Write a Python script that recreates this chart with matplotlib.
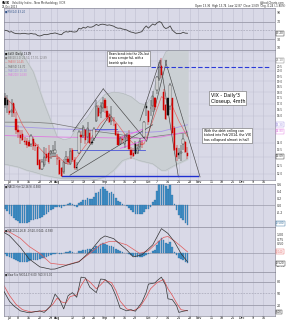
import numpy as np
import matplotlib.pyplot as plt
import matplotlib.transforms as mtransforms
from matplotlib.ticker import FixedLocator, NullLocator, FormatStrFormatter

# trading-day index, 0 = 1 Jul 2013
days = list(range(-2, 83))
opens = [17.5, 17.3, 16.4, 16.3, 17.0, 15.7, 14.9, 14.5, 14.6, 14.1, 14.1, 14.0, 13.9, 14.2, 13.8,
         13.7, 12.8, 12.3, 12.5, 13.2, 13.3, 13.2, 13.3, 13.3, 12.9, 12.8, 12.3, 12.1, 12.9, 12.9,
         12.6, 13.5, 12.8, 12.4, 13.3, 14.5, 14.5, 14.9, 14.4, 14.7, 14.0, 14.3, 15.6, 16.6, 16.2,
         16.6, 17.3, 16.4, 15.9, 15.6, 15.6, 15.3, 14.6, 13.9, 14.2, 13.9, 14.5, 14.5, 13.5, 13.3,
         13.9, 13.3, 13.7, 13.9, 14.4, 16.8, 16.4, 16.6, 16.8, 17.5, 18.2, 19.2, 20.5, 18.0, 16.9,
         17.5, 16.8, 17.5, 15.0, 13.6, 13.3, 13.3, 13.9, 14.0, 13.3]
highs = [17.9, 17.7, 17.2, 17.4, 17.0, 16.3, 15.3, 14.9, 14.9, 14.4, 14.3, 14.2, 14.6, 14.4, 14.0,
         13.9, 12.9, 12.9, 13.7, 13.6, 13.8, 13.5, 13.8, 14.1, 13.2, 13.0, 12.4, 12.9, 13.4, 13.1,
         13.6, 13.6, 13.0, 12.7, 14.9, 14.8, 15.3, 15.0, 15.5, 14.9, 14.3, 15.1, 17.3, 16.9, 17.1,
         17.6, 17.5, 16.8, 16.2, 16.8, 15.9, 15.4, 14.8, 14.5, 14.5, 14.6, 14.7, 14.9, 13.7, 13.6,
         14.1, 13.9, 14.3, 14.2, 15.6, 17.1, 16.5, 17.3, 18.1, 17.6, 19.5, 20.9, 21.3, 18.3, 17.0,
         17.5, 18.8, 17.5, 15.2, 13.8, 13.6, 13.8, 14.6, 14.1, 13.7]
lows = [16.6, 16.2, 16.1, 15.9, 15.9, 14.6, 14.3, 13.9, 14.1, 13.8, 13.6, 13.7, 13.7, 13.5, 13.4,
        12.5, 12.2, 12.2, 12.4, 12.8, 12.6, 12.9, 13.0, 13.0, 12.5, 11.9, 11.8, 12.0, 12.6, 12.5,
        12.5, 12.8, 12.2, 12.2, 13.2, 14.0, 14.3, 13.9, 14.0, 13.9, 13.8, 14.1, 15.5, 15.9, 15.8,
        16.3, 16.2, 15.6, 15.4, 15.3, 15.2, 14.5, 13.8, 13.8, 14.0, 13.6, 14.1, 13.5, 12.9, 13.0,
        13.3, 13.2, 13.5, 13.6, 14.3, 16.0, 15.3, 16.0, 16.3, 16.5, 17.8, 19.0, 19.3, 16.4, 15.7,
        16.0, 16.5, 14.6, 13.4, 12.8, 12.9, 12.8, 13.5, 13.3, 12.9]
closes = [16.86, 16.86, 16.21, 16.44, 16.20, 14.89, 14.78, 14.35, 14.21, 14.01, 13.84, 13.79, 14.42,
          13.78, 13.77, 12.54, 12.29, 12.66, 13.02, 12.97, 12.72, 13.39, 13.39, 13.45, 12.94, 11.98,
          11.84, 12.72, 12.98, 12.73, 13.41, 12.81, 12.31, 12.31, 14.73, 14.37, 15.10, 14.15, 15.00,
          13.98, 13.98, 14.99, 16.77, 15.98, 16.81, 17.01, 16.61, 15.88, 15.51, 15.85, 15.63, 14.53,
          13.82, 14.29, 14.16, 14.38, 14.53, 13.59, 13.16, 13.12, 13.26, 13.59, 14.08, 13.96, 15.46,
          16.60, 15.54, 16.60, 17.67, 16.74, 19.41, 20.34, 19.60, 16.48, 15.72, 16.07, 18.66, 14.71,
          13.48, 13.04, 13.16, 13.33, 14.20, 13.33, 13.09]

# overlays (index, value)
bb_x = [-3, 4, 8, 11, 16, 20, 22, 25, 28, 32, 36, 40, 44, 48, 52, 56, 60, 63, 66, 68, 70, 72, 76, 82]
bb_up = [23, 22.5, 21.0, 19.9, 17.0, 15.2, 14.4, 14.2, 14.3, 15.3, 15.9, 17.0, 17.8, 18.0, 17.9,
         17.6, 17.0, 16.9, 17.8, 19.5, 21.0, 22.0, 22.5, 22.5]
bb_lo = [12.6, 12.4, 12.2, 12.1, 11.9, 11.8, 11.75, 11.7, 11.7, 11.7, 11.7, 11.65, 11.8, 12.2, 12.8,
         13.0, 12.8, 12.7, 12.6, 12.4, 12.2, 12.2, 12.5, 12.9]
ma8_x = [-2, 2, 6, 10, 14, 18, 22, 26, 30, 34, 38, 42, 46, 50, 54, 58, 62, 66, 70, 74, 78, 82]
ma8 = [17.6, 16.8, 15.3, 14.3, 13.6, 13.0, 13.1, 12.6, 12.8, 13.6, 14.4, 15.4, 16.1, 15.3, 14.4,
       13.8, 13.9, 15.6, 17.6, 17.2, 15.6, 14.4]
ma50_x = [-2, 10, 20, 30, 40, 50, 60, 66, 70, 82]
ma50 = [15.5, 15.5, 15.4, 15.1, 14.8, 14.6, 14.3, 14.4, 14.5, 14.7]
ma100_x = [-2, 20, 40, 60, 70, 82]
ma100 = [15.2, 15.0, 14.9, 14.7, 14.8, 15.3]
ma200_x = [-2, 20, 40, 60, 70, 82]
ma200 = [14.5, 14.4, 14.35, 14.3, 14.4, 14.8]

# RSI(14)
rsi = [50, 49, 46, 47, 44, 42.5, 42.3, 42, 43, 43, 42, 41.6, 43, 41.6, 41.6, 38, 37, 38.5, 40.5, 40,
       41, 42.5, 43, 44, 42.5, 40.8, 40, 45, 47, 46, 48, 46.5, 46, 47, 54.7, 53, 57, 55, 58.5, 57,
       57.5, 60, 63.5, 61, 63.5, 64, 63, 61.5, 62.4, 61, 59.4, 56.5, 54.7, 55, 53, 52, 50.8, 48, 46,
       45, 43.2, 44, 45.5, 47, 54.7, 60, 55, 60, 64.5, 62, 67, 70, 67.7, 58, 54, 56, 60, 50.8, 46,
       42.3, 42.6, 43, 45.5, 43.5, 43.2]

# MACD(12,26,9)
hist = [-0.10, -0.18, -0.25, -0.30, -0.36, -0.42, -0.46, -0.50, -0.52, -0.52, -0.50, -0.48, -0.44,
        -0.42, -0.40, -0.40, -0.38, -0.33, -0.28, -0.24, -0.20, -0.15, -0.10, -0.06, -0.04, -0.06,
        -0.08, -0.03, 0.02, 0.03, 0.06, 0.04, -0.02, -0.05, 0.06, 0.10, 0.16, 0.14, 0.20, 0.18, 0.17,
        0.24, 0.35, 0.38, 0.48, 0.52, 0.48, 0.42, 0.36, 0.38, 0.32, 0.22, 0.12, 0.08, 0.03, 0.00,
        -0.03, -0.09, -0.15, -0.20, -0.24, -0.25, -0.26, -0.26, -0.20, -0.12, -0.10, -0.04, 0.10,
        0.14, 0.40, 0.65, 0.80, 0.70, 0.55, 0.48, 0.58, 0.30, 0.05, -0.15, -0.28, -0.36, -0.44,
        -0.52, -0.58]
macd_x = [-2.5, 0, 5, 9, 14, 19, 21, 26, 32, 37, 42, 44, 48, 54, 57, 61, 66, 70, 73, 76, 79, 82]
macd = [1.12, 0.95, 0.30, -0.35, -0.80, -0.93, -0.92, -0.72, -0.52, 0.04, 0.78, 0.93, 0.78, 0.15,
        -0.24, -0.13, 0.43, 1.34, 1.07, 0.60, -0.05, -0.52]
sig_x = [-2.5, 0, 5, 9, 14, 19, 26, 32, 37, 42, 46, 49, 54, 60, 64, 68, 71, 73, 76, 79, 82]
signal = [1.20, 1.15, 0.80, 0.35, -0.05, -0.60, -0.70, -0.50, -0.05, 0.45, 0.62, 0.62, 0.43,
          -0.05, 0.10, 0.55, 0.85, 0.90, 0.65, 0.35, 0.04]

# Slow stochastics
sto_x = [-2.5, 0, 2, 5, 9, 12, 14, 16, 19, 21, 23, 25, 27, 29, 31, 33, 35, 37, 40, 42, 44, 47, 49,
         51, 54, 56, 58, 61, 63, 64, 67, 68, 70, 72, 73, 75, 77, 78, 80, 82]
sto_k = [55, 30, 18, 5, 0, 3, 5, 1, 18, 48, 35, 10, 44, 52, 40, 92, 90, 66, 52, 87, 86, 70, 44, 12,
         5, 8, 4, 27, 53, 74, 77, 83, 92, 70, 36, 34, 18, 1, 4, 6]
sto_dx = [-2.5, 0, 3, 6, 10, 14, 17, 20, 22, 24, 26, 28, 31, 33, 35, 37, 40, 42, 44, 47, 49, 51, 54,
          57, 60, 63, 65, 68, 71, 73, 75, 77, 79, 82]
sto_d = [70, 45, 22, 8, 2, 4, 6, 22, 38, 28, 25, 42, 46, 70, 88, 80, 62, 72, 84, 78, 58, 30, 10, 5,
         14, 40, 62, 78, 86, 62, 45, 25, 8, 5]

tick_pos = [0, 4, 9, 14, 19, 22, 29, 34, 39, 44, 48, 53, 58, 64, 68, 73, 78, 83, 87, 93, 98, 103,
            107, 112, 117]
tick_lab = ['Jul', '8', '15', '22', '29', 'Aug', '12', '19', '26', 'Sep', '9', '16', '23', 'Oct',
            '7', '14', '21', '28', 'Nov', '11', '18', '25', 'Dec', '9', '16']

BG = '#d9d9e7'
GRID = '#bfbfd0'
FS = 2.3

fig = plt.figure(figsize=(2.87, 3.2), dpi=100)
fig.patch.set_facecolor('white')
W, H = 287.0, 320.0


def panel(top, bottom):
    ax = fig.add_axes([4 / W, 1 - bottom / H, 271 / W, (bottom - top) / H])
    ax.set_facecolor(BG)
    ax.set_xlim(-2.5, 122.3)
    ax.set_xticks(tick_pos)
    ax.set_xticklabels(tick_lab)
    ax.tick_params(axis='x', length=0, labelsize=FS, pad=0.6, labelbottom=False)
    ax.yaxis.tick_right()
    ax.tick_params(axis='y', length=0, labelsize=FS, pad=1, colors='#333333')
    for x in tick_pos:
        ax.axvline(x, color=GRID, lw=0.4, zorder=0)
    for s in ax.spines.values():
        s.set_color('#8a8a9a')
        s.set_linewidth(0.5)
    return ax


def boxed(ax, y, txt, col='#222222'):
    tr = mtransforms.blended_transform_factory(ax.transAxes, ax.transData)
    ax.text(1.004, y, txt, transform=tr, fontsize=2.0, color=col, va='center', ha='left',
            bbox=dict(facecolor='white', edgecolor=col, lw=0.3, pad=0.3), clip_on=False)


ax_rsi = panel(8, 50)
ax_px = panel(50, 179.5)
ax_h = panel(183.5, 227)
ax_m = panel(227, 271.7)
ax_s = panel(271.7, 315.5)

# header
fig.text(2 / W, 1 - 3 / H, '$VIX', fontsize=2.2, weight='bold', va='center')
fig.text(12 / W, 1 - 3 / H, 'Volatility Index - New Methodology INDX', fontsize=1.9, va='center',
         color='#333333')
fig.text(2 / W, 1 - 7 / H, '25-Oct-2013', fontsize=1.9, va='center', color='#333333')
fig.text(285 / W, 1 - 2.5 / H, '@StockCharts.com', fontsize=1.9, va='center', ha='right',
         color='#333333')
fig.text(285 / W, 1 - 6.5 / H, 'Open 13.36  High 13.74  Low 12.87  Close 13.09  Chg -0.24 (-1.80%)',
         fontsize=1.9, va='center', ha='right', color='#222222')

# RSI panel
ax_rsi.set_ylim(5, 101)
ax_rsi.yaxis.set_major_locator(FixedLocator([10, 30, 70, 90]))
for lvl in (30, 70):
    ax_rsi.axhline(lvl, color='#9a9aaa', lw=0.6, zorder=1)
ax_rsi.axhline(50, color='#9a9aaa', lw=0.4, ls=(0, (3, 2)), zorder=1)
ax_rsi.plot(days, rsi, color='#444444', lw=0.6, zorder=3)
boxed(ax_rsi, rsi[-1], '%.2f' % rsi[-1])
ax_rsi.text(0.005, 0.95, '■RSI(14) %.2f' % rsi[-1], transform=ax_rsi.transAxes, fontsize=1.9,
            va='top', color='#335588')

# price panel
px_ticks = [12, 12.5, 13.5, 14, 16, 16.5, 17, 17.5, 18, 18.5, 19, 19.5, 20, 20.5]
ax_px.set_yscale('log')
ax_px.set_ylim(11.65, 22.2)
ax_px.yaxis.set_major_locator(FixedLocator(px_ticks))
ax_px.yaxis.set_minor_locator(NullLocator())
ax_px.yaxis.set_major_formatter(FormatStrFormatter('%.1f'))
ax_px.yaxis.set_minor_formatter(plt.NullFormatter())
ax_px.tick_params(axis='y', labelsize=2.0)
ax_px.tick_params(axis='x', labelbottom=True)
for lvl in np.arange(12, 22.01, 1.0):
    ax_px.axhline(lvl, color=GRID, lw=0.3, zorder=0)

ax_px.fill_between(bb_x, bb_lo, bb_up, color='#cbd0d4', zorder=1)
ax_px.plot(bb_x, bb_up, color='#b0b6ba', lw=0.4, zorder=1)
ax_px.plot(bb_x, bb_lo, color='#b0b6ba', lw=0.4, zorder=1)
ax_px.plot(ma50_x, ma50, color='#777777', lw=0.5, zorder=2)
ax_px.plot(ma100_x, ma100, color='#a596e6', lw=0.6, zorder=2)
ax_px.plot(ma200_x, ma200, color='#e07ae0', lw=0.6, zorder=2)
ax_px.plot(ma8_x, ma8, color='#e06a6a', lw=0.5, zorder=2)

# hand-drawn trend lines
seg_black = [((29.3, 14.8), (43.2, 18.3)), ((43.2, 18.3), (63.2, 14.1)),
             ((31, 12.5), (46.3, 16.1)), ((27.9, 11.9), (66, 15.3)),
             ((69.4, 21.1), (77.8, 11.8)), ((71.7, 21.1), (87.8, 11.8)),
             ((63.2, 14.1), (72.4, 21.1)), ((60.1, 15.6), (69.4, 21.1))]
for (x0, y0), (x1, y1) in seg_black:
    ax_px.plot([x0, x1], [y0, y1], color='#444444', lw=0.45, zorder=3)
for (x0, y0), (x1, y1) in [((50.5, 14.3), (62, 15.0)), ((51, 13.6), (63, 14.2))]:
    ax_px.plot([x0, x1], [y0, y1], color='#ee66ee', lw=0.6, zorder=3)
ax_px.plot([24, 87], [11.85, 11.85], color='#1f2fd0', lw=1.0, zorder=3)
ax_px.plot([29.3, 62.5], [13.5, 13.5], color='#4a55d8', lw=0.6, zorder=3)
ax_px.plot([38.5, 49.5], [15.0, 15.0], color='#4a55d8', lw=0.6, zorder=3)
ax_px.plot([65, 120], [20.4, 20.4], color='#2a3ad8', lw=0.8, ls=(0, (4, 2)), zorder=3)

# candles
for i, d in enumerate(days):
    o, h, l, c = opens[i], highs[i], lows[i], closes[i]
    prev = closes[i - 1] if i > 0 else c
    col = '#d00000' if c < prev else '#111111'
    ax_px.vlines(d, l, h, color=col, lw=0.35, zorder=4)
    lo_b, hi_b = min(o, c), max(o, c)
    face = 'white' if c > o else col
    ax_px.bar(d, hi_b - lo_b + 0.02, bottom=lo_b, width=0.6, color=face, edgecolor=col,
              lw=0.3, zorder=5)

leg = [('■ $VIX (Daily) 13.09', '#111111'), ('■ BB(20,2.0) 22.51, 17.70, 12.89', '#777777'),
       ('— MA(8) 14.45', '#e06a6a'), ('— MA(50) 14.70', '#666666'),
       ('— MA(100) 15.30', '#9a8ae0'), ('— MA(200) 14.80', '#e07ae0')]
for k, (t, c) in enumerate(leg):
    ax_px.text(0.005, 0.985 - k * 0.033, t, transform=ax_px.transAxes, fontsize=1.8, color=c,
               va='top')
boxed(ax_px, 21.1, '21.10', '#777777')
boxed(ax_px, 15.3, '15.30', '#9a8ae0')
boxed(ax_px, 14.8, '14.80', '#e07ae0')
boxed(ax_px, closes[-1], '%.2f' % closes[-1])

box = dict(facecolor='white', edgecolor='#666666', lw=0.4, pad=1.0)
ax_px.text(0.386, 0.985, 'Bears break into the 20s, but\nit was a major fail, with a\nbearish spike top.',
           transform=ax_px.transAxes, fontsize=2.0, va='top', ha='left', bbox=box, zorder=6,
           linespacing=1.1)
ax_px.text(0.762, 0.67, "VIX - Daily'3\nCloseup, 4mth", transform=ax_px.transAxes, fontsize=3.4,
           va='top', ha='left', bbox=box, zorder=6, linespacing=1.3)
ax_px.text(0.737, 0.39, "With the debt ceiling can\nkicked into Feb'2014, the VIX\nhas collapsed almost in half.",
           transform=ax_px.transAxes, fontsize=2.3, va='top', ha='left', bbox=box, zorder=6,
           linespacing=1.15)

# MACD histogram panel
ax_h.set_ylim(-0.63, 0.63)
ax_h.yaxis.set_major_locator(FixedLocator([-0.2, 0.0, 0.2, 0.4, 0.6]))
ax_h.yaxis.set_major_formatter(FormatStrFormatter('%.1f'))
ax_h.axhline(0, color='#9a9aaa', lw=0.5, zorder=1)
ax_h.bar(days, hist, width=0.75, color='#3f8fc8', edgecolor='#2b6796', lw=0.2, zorder=2)
boxed(ax_h, -0.52, '%.3f' % hist[-1], '#2b6796')
ax_h.text(0.005, 0.96, '■MACD Hist(12,26,9) %.3f' % hist[-1], transform=ax_h.transAxes,
          fontsize=1.8, va='top', color='#333333')

# MACD panel
ax_m.set_ylim(-1.07, 1.43)
ax_m.yaxis.set_major_locator(FixedLocator([-0.75, 0.5, 0.75, 1.0]))
ax_m.yaxis.set_major_formatter(FormatStrFormatter('%.2f'))
ax_m.axhline(0, color='#9a9aaa', lw=0.5, zorder=1)
ax_m.bar(days, hist, width=0.75, color='#3f8fc8', edgecolor='#2b6796', lw=0.2, zorder=2)
ax_m.plot(sig_x, signal, color='#e05a5a', lw=0.5, zorder=3)
ax_m.plot(macd_x, macd, color='#333333', lw=0.5, zorder=3)
boxed(ax_m, signal[-1], '%.3f' % signal[-1], '#e05a5a')
boxed(ax_m, macd[-1] - 0.08, '%.3f' % macd[-1])
ax_m.text(0.005, 0.96, '■MACD(12,26,9) %.3f, %.3f, %.3f' % (macd[-1], signal[-1], hist[-1]),
          transform=ax_m.transAxes, fontsize=1.8, va='top', color='#333333')

# Stochastics panel
ax_s.set_ylim(-7, 106)
ax_s.yaxis.set_major_locator(FixedLocator([20, 50, 80]))
ax_s.tick_params(axis='x', labelbottom=True)
for lvl in (20, 80):
    ax_s.axhline(lvl, color='#9a9aaa', lw=0.6, zorder=1)
ax_s.axhline(50, color='#9a9aaa', lw=0.4, ls=(0, (3, 2)), zorder=1)
ax_s.plot(sto_dx, sto_d, color='#e05050', lw=0.5, zorder=2)
ax_s.plot(sto_x, sto_k, color='#333333', lw=0.5, zorder=3)
boxed(ax_s, 2, '%.2f' % sto_k[-1])
ax_s.text(0.005, 0.97, '■Slow Sto %%K(14,3) %.2f  %%D(3) %.2f' % (sto_k[-1], sto_d[-1]),
          transform=ax_s.transAxes, fontsize=1.8, va='top', color='#333333')

fig.savefig('out.png', dpi=100, facecolor='white')
